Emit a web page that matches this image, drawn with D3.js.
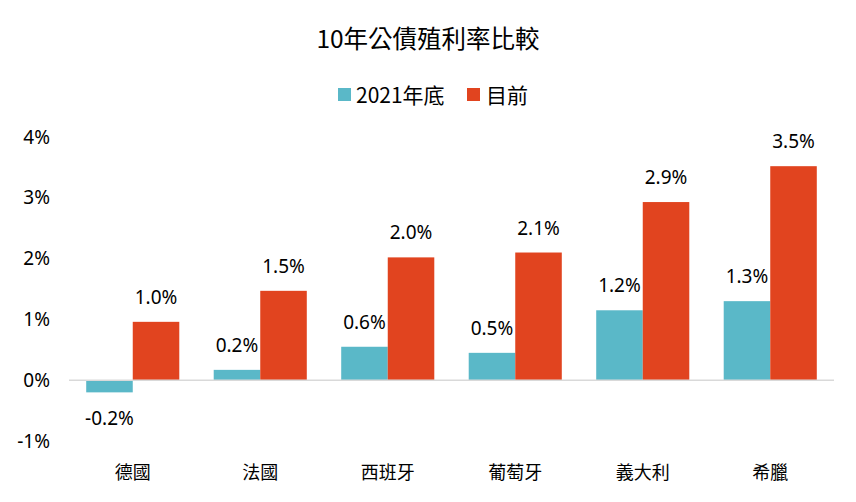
<!DOCTYPE html>
<html><head><meta charset="utf-8">
<script src="https://cdn.jsdelivr.net/npm/d3@7"></script>
<style>body{margin:0;background:#fff}text{font-family:"Noto Sans CJK TC","Noto Sans",sans-serif;fill:#000}</style>
</head><body><svg id="c" width="856" height="502"></svg>
<script>
const categories = ["德國","法國","西班牙","葡萄牙","義大利","希臘"];
const seriesNames = ["2021年底","目前"];
const values2021 = [-0.2, 0.17, 0.55, 0.45, 1.15, 1.3];
const valuesNow = [0.96, 1.47, 2.02, 2.1, 2.93, 3.52];
const labels2021 = ["-0.2%","0.2%","0.6%","0.5%","1.2%","1.3%"];
const labelsNow = ["1.0%","1.5%","2.0%","2.1%","2.9%","3.5%"];
const yTicks = [-1,0,1,2,3,4];
const colors = ["#5ab8c8","#e1441f"];

const svg = d3.select("#c");
const x = d3.scaleBand().domain(categories).range([69,834]).paddingInner(0.27).paddingOuter(0.135);
const xs = d3.scaleBand().domain([0,1]).range([0,x.bandwidth()]);
const y = d3.scaleLinear().domain([-1,4]).range([441,137]);
const numFont = "'Noto Sans','Noto Sans CJK TC',sans-serif";

svg.append("text").attr("x",428).attr("y",48).attr("text-anchor","middle").attr("font-size",24.5).text("10年公債殖利率比較");

// legend
const leg = svg.append("g");
[[338,356,0],[467,486,1]].forEach(([lx,tx,i])=>{
  leg.append("rect").attr("x",lx).attr("y",88).attr("width",13).attr("height",13).attr("fill",colors[i]);
  leg.append("text").attr("x",tx).attr("y",102.5).attr("font-size",21).text(seriesNames[i]);
});

// y axis labels
const ya = svg.append("g").attr("transform","translate(50,0)").call(d3.axisLeft(y).tickValues(yTicks).tickFormat(d=>d+"%").tickSize(0).tickPadding(0));
ya.select(".domain").remove();
ya.selectAll("text").attr("font-size",19).style("font-family",numFont);

const series = [values2021, valuesNow];
const lbls = [labels2021, labelsNow];
series.forEach((vals,s)=>{
  svg.append("g").selectAll("rect").data(vals).join("rect")
    .attr("x",(d,i)=>x(categories[i])+xs(s))
    .attr("width",xs.bandwidth())
    .attr("y",d=>y(Math.max(0,d)))
    .attr("height",d=>Math.abs(y(d)-y(0)))
    .attr("fill",colors[s]);
  svg.append("g").selectAll("text").data(vals).join("text")
    .attr("x",(d,i)=>x(categories[i])+xs(s)+xs.bandwidth()/2)
    .attr("y",d=>d>=0 ? y(d)-18 : y(d)+33)
    .attr("text-anchor","middle").attr("font-size",19)
    .style("font-family",numFont)
    .text((d,i)=>lbls[s][i]);
});

// zero line
svg.append("line").attr("x1",69).attr("x2",834).attr("y1",y(0)).attr("y2",y(0)).attr("stroke","#d9d9d9").attr("stroke-width",1.5);

// x axis labels
const xa = svg.append("g").attr("transform","translate(0,461)").call(d3.axisBottom(x).tickSize(0).tickPadding(0));
xa.select(".domain").remove();
xa.selectAll("text").attr("font-size",18).attr("dy","1em");
</script></body></html>
